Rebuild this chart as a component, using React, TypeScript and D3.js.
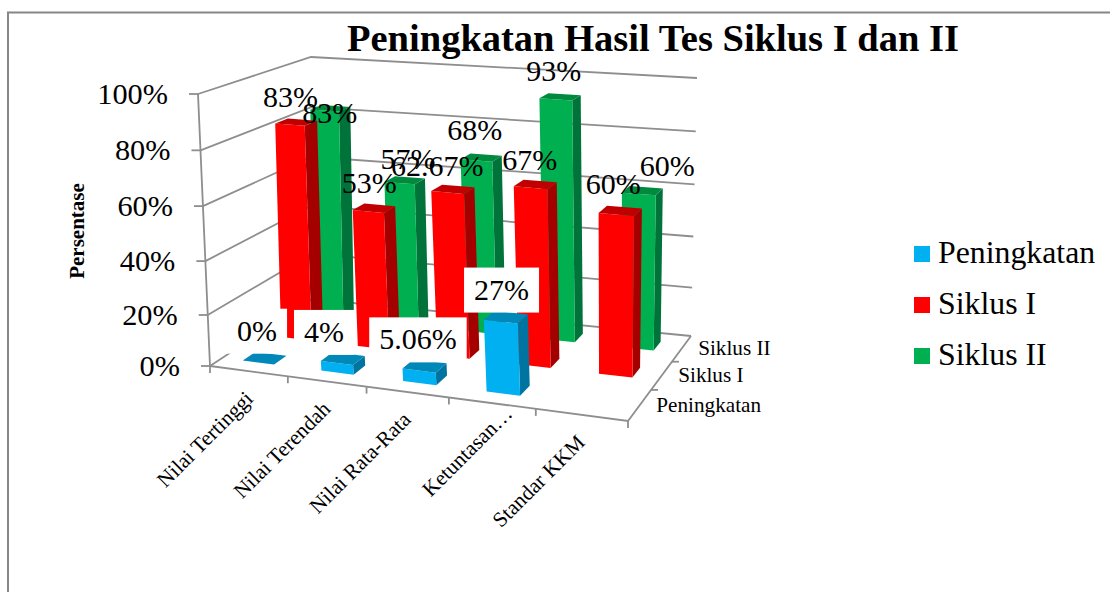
import React from "react";
import * as d3 from "d3";

const categories = ["Nilai Tertinggi", "Nilai Terendah", "Nilai Rata-Rata", "Ketuntasan…", "Standar KKM"];
const seriesNames = ["Peningkatan", "Siklus I", "Siklus II"];
const valueTicks = [0, 20, 40, 60, 80, 100];

const peningkatan = [0, 4, 5.06, 27, null];
const siklus1 = [83, 53, 62.67, 67, 60];
const siklus2 = [83, 57, 68, 93, 60];

const labelsPeningkatan = ["0%", "4%", "5.06%", "27%", ""];
const labels1 = ["83%", "53%", "62.67%", "67%", "60%"];
const labels2 = ["83%", "57%", "68%", "93%", "60%"];

// label offsets from the top of each bar, placed by hand like in the original
const nudgePeningkatan = [[-8, -27], [-19, -26], [-7, -26], [-5, -27], [0, 0]];
const nudge1 = [[-6, -25], [-5, -25], [-16, -23], [-6, -24], [-7, -26]];
const nudge2 = [[-1, 5], [3, -21], [-7, -27], [-7, -25], [25, -24]];
const nudgeCategory = [[0, 0], [0, 0], [0, 0], [17, -17], [0, 0]];

const colors = [
    { front: "#00B0F0", side: "#0074A0", top: "#0088B8" },
    { front: "#FF0000", side: "#A50000", top: "#C00000" },
    { front: "#00B050", side: "#00733A", top: "#008A3E" },
];

const gray = "#8E8E8E";
const serif = "'Liberation Serif', 'Times New Roman', serif";

type Pt = [number, number];

// unit square -> quad (p00, p10, p11, p01)
const quadMap = (p0: Pt, p1: Pt, p2: Pt, p3: Pt) => {
    const dx1 = p1[0] - p2[0];
    const dx2 = p3[0] - p2[0];
    const dy1 = p1[1] - p2[1];
    const dy2 = p3[1] - p2[1];
    const sx = p0[0] - p1[0] + p2[0] - p3[0];
    const sy = p0[1] - p1[1] + p2[1] - p3[1];
    const det = dx1 * dy2 - dx2 * dy1;
    const g = (sx * dy2 - dx2 * sy) / det;
    const h = (dx1 * sy - sx * dy1) / det;
    const a = p1[0] - p0[0] + g * p1[0];
    const b = p3[0] - p0[0] + h * p3[0];
    const d = p1[1] - p0[1] + g * p1[1];
    const e = p3[1] - p0[1] + h * p3[1];
    return (u: number, w: number): Pt => {
        const q = g * u + h * w + 1;
        return [(a * u + b * w + p0[0]) / q, (d * u + e * w + p0[1]) / q];
    };
};

const floorMap = quadMap([210, 366], [628, 421], [691, 336], [312, 299]);
const topMap = quadMap([198, 94], [632, 131], [697, 78], [311, 57]);

const valueScale = d3.scalePow().exponent(1.04).domain([0, 100]).range([0, 1]);
// the corner fit overdoes the perspective along the categories, these two pull it back
const tickWarp = d3.scalePow().exponent(0.96).domain([0, 1]).range([0, 1]);
const barWarp = d3
    .scaleLinear()
    .domain([0, 0.1, 0.3, 0.5, 0.7, 0.9, 1])
    .range([0, 0.1115, 0.3225, 0.529, 0.725, 0.908, 1]);
const xBand = d3.scaleBand<string>().domain(categories).range([0, 1]).paddingInner(0.6).paddingOuter(0.3);
const zBand = d3.scaleBand<string>().domain(seriesNames).range([0, 1]).paddingInner(0.65).paddingOuter(0.325);

const project = (u: number, w: number, value: number): Pt => {
    const a = floorMap(u, w);
    const b = topMap(u, w);
    const t = valueScale(value);
    return [a[0] + (b[0] - a[0]) * t, a[1] + (b[1] - a[1]) * t];
};

const face = d3.line<Pt>().curve(d3.curveLinearClosed);
const seg = (a: Pt, b: Pt) => `M${a[0]},${a[1]}L${b[0]},${b[1]}`;

// rough Times metrics, enough to size the white label boxes
const labelWidth = (s: string, size: number) =>
    d3.sum(s.split(""), (c) => (c === "%" ? 0.833 : c === "." ? 0.25 : 0.5)) * size;

const Bar = ({ cat, series, value, color, shift }: any) => {
    const u0 = barWarp(xBand(cat)!) + shift;
    const u1 = barWarp(xBand(cat)! + xBand.bandwidth()) + shift;
    const w0 = zBand(series)!;
    const w1 = w0 + zBand.bandwidth();
    const p = (u: number, w: number, v: number) => project(u, w, v);
    return (
        <g>
            <path d={face([p(u1, w0, 0), p(u1, w1, 0), p(u1, w1, value), p(u1, w0, value)])!} fill={color.side} />
            <path d={face([p(u0, w0, 0), p(u1, w0, 0), p(u1, w0, value), p(u0, w0, value)])!} fill={color.front} />
            <path d={face([p(u0, w0, value), p(u1, w0, value), p(u1, w1, value), p(u0, w1, value)])!} fill={color.top} />
        </g>
    );
};

const App = () => {
    const fontLabel = 30;
    const rows = [
        { name: seriesNames[2], values: siklus2, labels: labels2, nudge: nudge2, color: colors[2], box: false, shift: 0 },
        { name: seriesNames[1], values: siklus1, labels: labels1, nudge: nudge1, color: colors[1], box: false, shift: 0 },
        { name: seriesNames[0], values: peningkatan, labels: labelsPeningkatan, nudge: nudgePeningkatan, color: colors[0], box: true, shift: -0.009 },
    ];
    const legendRows = [
        { name: seriesNames[0], color: colors[0].front },
        { name: seriesNames[1], color: colors[1].front },
        { name: seriesNames[2], color: colors[2].front },
    ];
    const legendY = d3.scalePoint<string>().domain(seriesNames).range([254, 356]);

    return (
        <svg
            width={1110}
            height={592}
            style={{ position: "absolute", top: 0, left: 0, background: "#fff" }}
            fontFamily={serif}
        >
            <path d="M8,592V12.5H1110" fill="none" stroke="#868686" strokeWidth={2} />

            {/* walls */}
            <g stroke={gray} strokeWidth={1.8} fill="none">
                {valueTicks.map((t) => (
                    <path
                        key={t}
                        d={d3.line()([project(0, 0, t), project(0, 1, t), project(1, 1, t)])!}
                    />
                ))}
                <path d={seg(project(0, 0, 0), project(0, 0, 100))} />
                <path d={d3.line()([project(0, 0, 0), project(1, 0, 0), project(1, 1, 0)])!} />
                {valueTicks.map((t) => {
                    const a = project(0, 0, t);
                    return <path key={t} d={seg(a, [a[0] - 9, a[1]])} />;
                })}
                {d3.range(0, 6).map((i) => {
                    const a = project(tickWarp(i / 5), 0, 0);
                    return <path key={i} d={seg(a, [a[0], a[1] + 7])} />;
                })}
                {d3.range(1, 3).map((i) => {
                    const a = project(1, i / 3, 0);
                    return <path key={i} d={seg(a, [a[0] + 7, a[1]])} />;
                })}
            </g>

            {rows.map((r) =>
                r.values.map((v, i) =>
                    v === null ? null : (
                        <Bar key={r.name + i} cat={categories[i]} series={r.name} value={v} color={r.color} shift={r.shift} />
                    )
                )
            )}

            {/* data labels */}
            {rows.map((r) =>
                r.values.map((v, i) => {
                    if (v === null) return null;
                    const uc = barWarp(xBand(categories[i])! + xBand.bandwidth() / 2) + r.shift;
                    const wc = zBand(r.name)! + zBand.bandwidth() / 2;
                    const c = project(uc, wc, v);
                    const x = c[0] + r.nudge[i][0];
                    const y = c[1] + r.nudge[i][1];
                    const w = labelWidth(r.labels[i], fontLabel) + 20;
                    return (
                        <g key={r.name + i}>
                            {r.box && <rect x={x - w / 2} y={y - 22.5} width={w} height={45} fill="#fff" />}
                            <text x={x} y={y} dy="0.32em" textAnchor="middle" fontSize={fontLabel}>
                                {r.labels[i]}
                            </text>
                        </g>
                    );
                })
            )}

            {/* value axis */}
            {valueTicks.map((t) => {
                const a = project(0, 0, t);
                return (
                    <text key={t} x={a[0] - 30} y={a[1]} dy="0.32em" textAnchor="end" fontSize={30.3}>
                        {t}%
                    </text>
                );
            })}
            <text
                transform="translate(77,231) rotate(-90)"
                dy="0.32em"
                textAnchor="middle"
                fontSize={21}
                fontWeight="bold"
            >
                Persentase
            </text>

            {/* category axis */}
            {categories.map((c, i) => {
                const a = project(tickWarp(xBand(c)! + xBand.bandwidth() / 2), 0, 0);
                return (
                    <text
                        key={c}
                        transform={`translate(${a[0] + nudgeCategory[i][0]},${a[1] + 24 + nudgeCategory[i][1]}) rotate(-45)`}
                        dy="0.32em"
                        textAnchor="end"
                        fontSize={21.3}
                    >
                        {c}
                    </text>
                );
            })}

            {/* series axis */}
            {seriesNames.map((s) => {
                const a = project(1, zBand(s)! + zBand.bandwidth() / 2, 0);
                return (
                    <text key={s} x={a[0] + 16.5} y={a[1]} dy="0.32em" fontSize={21.2}>
                        {s}
                    </text>
                );
            })}

            <text x={347} y={51} fontSize={38.5} fontWeight="bold">
                Peningkatan Hasil Tes Siklus I dan II
            </text>

            {legendRows.map((l) => (
                <g key={l.name} transform={`translate(914,${legendY(l.name)})`}>
                    <rect x={0} y={-8} width={16} height={16} fill={l.color} />
                    <text x={24} y={9} fontSize={31.8}>
                        {l.name}
                    </text>
                </g>
            ))}
        </svg>
    );
};

export default App;
